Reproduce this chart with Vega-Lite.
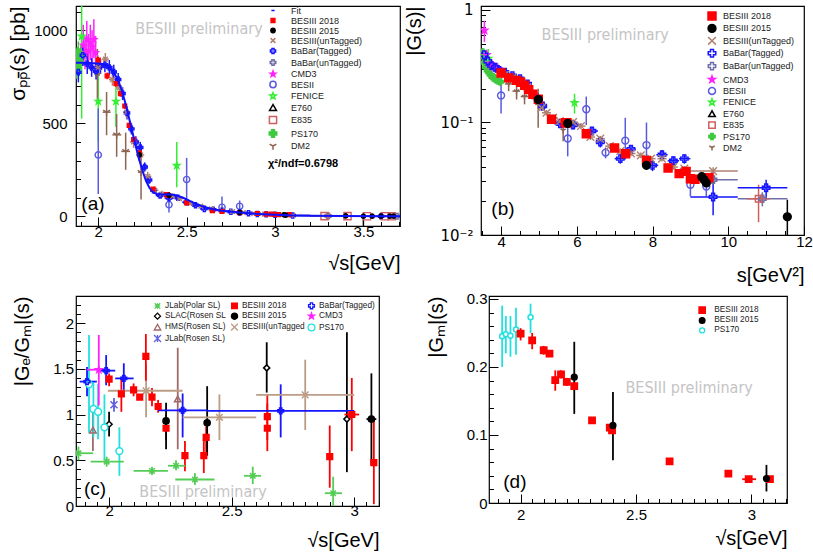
{
"$schema": "https://vega.github.io/schema/vega-lite/v6.json",
"background": "white",
"padding": {"left": 7, "top": 2, "right": 5, "bottom": 5},
"spacing": 5,
"config": {
  "view": {"stroke": "#000000", "strokeWidth": 1.2},
  "axis": {"grid": false, "domain": false, "tickColor": "#000000", "tickWidth": 1, "labelFont": "Liberation Sans", "titleFont": "Liberation Sans", "labelColor": "#000000", "titleColor": "#000000", "titleFontWeight": "normal", "labelFontSize": 15, "titleFontSize": 20, "labelOverlap": false, "labelFlush": false, "labelBound": false, "format": "~g"},
  "text": {"font": "Liberation Sans"}
},
"resolve": {"scale": {"stroke": "independent", "fill": "independent", "shape": "independent", "size": "independent", "x": "independent", "y": "independent"}, "legend": {"stroke": "independent", "fill": "independent", "shape": "independent"}},
"datasets": {
"afit": [
{"set":"Fit","x":1.874,"y":825},{"set":"Fit","x":1.9,"y":826},{"set":"Fit","x":1.95,"y":824},{"set":"Fit","x":2.0,"y":822},{"set":"Fit","x":2.03,"y":818},{"set":"Fit","x":2.05,"y":810},{"set":"Fit","x":2.07,"y":795},{"set":"Fit","x":2.09,"y":770},{"set":"Fit","x":2.11,"y":735},{"set":"Fit","x":2.13,"y":685},{"set":"Fit","x":2.15,"y":620},{"set":"Fit","x":2.17,"y":545},{"set":"Fit","x":2.19,"y":465},{"set":"Fit","x":2.21,"y":385},{"set":"Fit","x":2.23,"y":310},{"set":"Fit","x":2.25,"y":245},{"set":"Fit","x":2.27,"y":190},{"set":"Fit","x":2.29,"y":152},{"set":"Fit","x":2.31,"y":130},{"set":"Fit","x":2.33,"y":120},{"set":"Fit","x":2.36,"y":117},{"set":"Fit","x":2.4,"y":118},{"set":"Fit","x":2.44,"y":113},{"set":"Fit","x":2.48,"y":100},{"set":"Fit","x":2.52,"y":82},{"set":"Fit","x":2.56,"y":64},{"set":"Fit","x":2.6,"y":50},{"set":"Fit","x":2.65,"y":38},{"set":"Fit","x":2.7,"y":30},{"set":"Fit","x":2.8,"y":20},{"set":"Fit","x":2.9,"y":13},{"set":"Fit","x":3.0,"y":8},{"set":"Fit","x":3.1,"y":5},{"set":"Fit","x":3.2,"y":3},{"set":"Fit","x":3.4,"y":1.5},{"set":"Fit","x":3.6,"y":0.8},{"set":"Fit","x":3.707,"y":0.5}
],
"a": [
{"set":"CMD3","x":1.915,"y":920,"lo":810,"hi":1030},{"set":"CMD3","x":1.925,"y":880,"lo":790,"hi":970},{"set":"CMD3","x":1.935,"y":950,"lo":850,"hi":1050},{"set":"CMD3","x":1.945,"y":890,"lo":800,"hi":980},{"set":"CMD3","x":1.955,"y":935,"lo":840,"hi":1030},{"set":"CMD3","x":1.965,"y":910,"lo":820,"hi":1000},{"set":"CMD3","x":1.975,"y":950,"lo":850,"hi":1060},{"set":"CMD3","x":1.985,"y":880,"lo":790,"hi":970},
{"set":"PS170","x":1.878,"y":800,"lo":740,"hi":860},{"set":"PS170","x":1.882,"y":850,"lo":790,"hi":910},{"set":"PS170","x":1.887,"y":880,"lo":820,"hi":940},{"set":"PS170","x":1.893,"y":830,"lo":780,"hi":880},{"set":"PS170","x":1.9,"y":860,"lo":800,"hi":920},
{"set":"FENICE","x":1.906,"y":968,"lo":525,"hi":1200},{"set":"FENICE","x":2.0,"y":618,"lo":400,"hi":760},{"set":"FENICE","x":2.1,"y":618,"lo":480,"hi":722},{"set":"FENICE","x":2.444,"y":273,"lo":156,"hi":399},
{"set":"BESII","x":2.0,"y":330,"lo":120,"hi":580},{"set":"BESII","x":2.4,"y":62,"lo":20,"hi":105},{"set":"BESII","x":2.5,"y":198,"lo":58,"hi":314},{"set":"BESII","x":2.7,"y":49,"lo":20,"hi":106},{"set":"BESII","x":2.8,"y":54,"lo":28,"hi":85},
{"set":"DM2","x":1.995,"y":760,"lo":620,"hi":900,"xl":1.98,"xh":2.01},{"set":"DM2","x":2.047,"y":560,"lo":436,"hi":668,"xl":2.025,"xh":2.07},{"set":"DM2","x":2.104,"y":438,"lo":320,"hi":550,"xl":2.08,"xh":2.13},{"set":"DM2","x":2.155,"y":349,"lo":250,"hi":450,"xl":2.13,"xh":2.18},{"set":"DM2","x":2.242,"y":237,"lo":90,"hi":380,"xl":2.225,"xh":2.26},
{"set":"BaBar(Tagged)","x":1.8875,"y":775,"lo":720,"hi":830,"xl":1.875,"xh":1.9},{"set":"BaBar(Tagged)","x":1.9125,"y":866,"lo":810,"hi":922,"xl":1.9,"xh":1.925},{"set":"BaBar(Tagged)","x":1.9375,"y":820,"lo":765,"hi":875,"xl":1.925,"xh":1.95},{"set":"BaBar(Tagged)","x":1.9625,"y":800,"lo":750,"hi":850,"xl":1.95,"xh":1.975},{"set":"BaBar(Tagged)","x":1.9875,"y":780,"lo":735,"hi":825,"xl":1.975,"xh":2.0},{"set":"BaBar(Tagged)","x":2.0125,"y":805,"lo":765,"hi":845,"xl":2.0,"xh":2.025},{"set":"BaBar(Tagged)","x":2.0375,"y":815,"lo":775,"hi":855,"xl":2.025,"xh":2.05},{"set":"BaBar(Tagged)","x":2.0625,"y":800,"lo":760,"hi":840,"xl":2.05,"xh":2.075},{"set":"BaBar(Tagged)","x":2.0875,"y":776,"lo":735,"hi":815,"xl":2.075,"xh":2.1},{"set":"BaBar(Tagged)","x":2.1125,"y":735,"lo":700,"hi":770,"xl":2.1,"xh":2.125},{"set":"BaBar(Tagged)","x":2.1375,"y":660,"lo":625,"hi":695,"xl":2.125,"xh":2.15},{"set":"BaBar(Tagged)","x":2.1625,"y":555,"lo":520,"hi":590,"xl":2.15,"xh":2.175},{"set":"BaBar(Tagged)","x":2.1875,"y":470,"lo":440,"hi":500,"xl":2.175,"xh":2.2},{"set":"BaBar(Tagged)","x":2.2125,"y":400,"lo":370,"hi":430,"xl":2.2,"xh":2.225},{"set":"BaBar(Tagged)","x":2.2375,"y":370,"lo":340,"hi":400,"xl":2.225,"xh":2.25},{"set":"BaBar(Tagged)","x":2.2625,"y":265,"lo":240,"hi":290,"xl":2.25,"xh":2.275},{"set":"BaBar(Tagged)","x":2.2875,"y":195,"lo":175,"hi":215,"xl":2.275,"xh":2.3},{"set":"BaBar(Tagged)","x":2.3125,"y":140,"lo":125,"hi":155,"xl":2.3,"xh":2.325},{"set":"BaBar(Tagged)","x":2.35,"y":112,"lo":98,"hi":126,"xl":2.325,"xh":2.375},{"set":"BaBar(Tagged)","x":2.4,"y":98,"lo":85,"hi":111,"xl":2.375,"xh":2.425},{"set":"BaBar(Tagged)","x":2.45,"y":100,"lo":88,"hi":112,"xl":2.425,"xh":2.475},{"set":"BaBar(Tagged)","x":2.5,"y":76,"lo":66,"hi":86,"xl":2.475,"xh":2.525},{"set":"BaBar(Tagged)","x":2.55,"y":60,"lo":52,"hi":68,"xl":2.525,"xh":2.575},{"set":"BaBar(Tagged)","x":2.6,"y":40,"lo":34,"hi":46,"xl":2.575,"xh":2.625},{"set":"BaBar(Tagged)","x":2.65,"y":35,"lo":29,"hi":41,"xl":2.625,"xh":2.675},{"set":"BaBar(Tagged)","x":2.7,"y":30,"lo":25,"hi":35,"xl":2.675,"xh":2.725},{"set":"BaBar(Tagged)","x":2.75,"y":25,"lo":20,"hi":30,"xl":2.725,"xh":2.775},{"set":"BaBar(Tagged)","x":2.8,"y":21,"lo":17,"hi":25,"xl":2.775,"xh":2.825},{"set":"BaBar(Tagged)","x":2.85,"y":17,"lo":13,"hi":21,"xl":2.825,"xh":2.875},{"set":"BaBar(Tagged)","x":2.9,"y":13,"lo":10,"hi":16,"xl":2.875,"xh":2.925},{"set":"BaBar(Tagged)","x":2.95,"y":11,"lo":8,"hi":14,"xl":2.925,"xh":2.975},{"set":"BaBar(Tagged)","x":3.0,"y":8,"lo":5,"hi":11,"xl":2.975,"xh":3.025},{"set":"BaBar(Tagged)","x":3.1,"y":4,"lo":2,"hi":6,"xl":3.0,"xh":3.2},{"set":"BaBar(Tagged)","x":3.3,"y":1.5,"lo":0,"hi":3,"xl":3.2,"xh":3.4},{"set":"BaBar(Tagged)","x":3.6,"y":0.5,"lo":-1,"hi":2,"xl":3.5,"xh":3.707},
{"set":"BaBar(unTagged)","x":3.3,"y":2.5,"lo":0,"hi":5,"xl":3.2,"xh":3.4},{"set":"BaBar(unTagged)","x":3.69,"y":0.5,"lo":-1,"hi":2,"xl":3.6,"xh":3.707},
{"set":"E835","x":3.28,"y":1,"xl":3.26,"xh":3.3},{"set":"E835","x":3.41,"y":1,"xl":3.39,"xh":3.43},{"set":"E835","x":3.52,"y":0.5,"xl":3.5,"xh":3.54},{"set":"E835","x":3.62,"y":0.5,"xl":3.6,"xh":3.64},{"set":"E835","x":3.66,"y":0.3,"xl":3.64,"xh":3.68},
{"set":"BESIII(unTagged)","x":2.0,"y":800,"lo":765,"hi":835,"xl":1.98,"xh":2.02},{"set":"BESIII(unTagged)","x":2.04,"y":845,"lo":812,"hi":878,"xl":2.02,"xh":2.06},{"set":"BESIII(unTagged)","x":2.08,"y":735,"lo":702,"hi":768,"xl":2.06,"xh":2.1},{"set":"BESIII(unTagged)","x":2.12,"y":690,"lo":655,"hi":725,"xl":2.1,"xh":2.14},{"set":"BESIII(unTagged)","x":2.16,"y":560,"lo":525,"hi":595,"xl":2.14,"xh":2.18},{"set":"BESIII(unTagged)","x":2.2,"y":400,"lo":368,"hi":432,"xl":2.18,"xh":2.22},{"set":"BESIII(unTagged)","x":2.24,"y":330,"lo":300,"hi":360,"xl":2.22,"xh":2.26},{"set":"BESIII(unTagged)","x":2.28,"y":215,"lo":190,"hi":240,"xl":2.26,"xh":2.3},{"set":"BESIII(unTagged)","x":2.32,"y":140,"lo":120,"hi":160,"xl":2.3,"xh":2.34},{"set":"BESIII(unTagged)","x":2.36,"y":120,"lo":103,"hi":137,"xl":2.34,"xh":2.38},{"set":"BESIII(unTagged)","x":2.42,"y":108,"lo":92,"hi":124,"xl":2.4,"xh":2.44},{"set":"BESIII(unTagged)","x":2.46,"y":95,"lo":81,"hi":109,"xl":2.44,"xh":2.48},{"set":"BESIII(unTagged)","x":2.52,"y":70,"lo":59,"hi":81,"xl":2.5,"xh":2.54},{"set":"BESIII(unTagged)","x":2.58,"y":55,"lo":46,"hi":64,"xl":2.56,"xh":2.6},{"set":"BESIII(unTagged)","x":2.64,"y":40,"lo":33,"hi":47,"xl":2.62,"xh":2.66},{"set":"BESIII(unTagged)","x":2.7,"y":30,"lo":24,"hi":36,"xl":2.68,"xh":2.72},{"set":"BESIII(unTagged)","x":2.76,"y":25,"lo":20,"hi":30,"xl":2.74,"xh":2.78},{"set":"BESIII(unTagged)","x":2.82,"y":20,"lo":16,"hi":24,"xl":2.8,"xh":2.84},{"set":"BESIII(unTagged)","x":2.88,"y":15,"lo":11,"hi":19,"xl":2.86,"xh":2.9},{"set":"BESIII(unTagged)","x":2.94,"y":12,"lo":9,"hi":15,"xl":2.92,"xh":2.96},{"set":"BESIII(unTagged)","x":3.0,"y":10,"lo":7,"hi":13,"xl":2.98,"xh":3.02},{"set":"BESIII(unTagged)","x":3.1,"y":5,"lo":2,"hi":8,"xl":3.0,"xh":3.2},{"set":"BESIII(unTagged)","x":3.3,"y":2,"lo":0,"hi":4,"xl":3.2,"xh":3.4},
{"set":"BESIII 2018","x":2.0,"y":840,"lo":822,"hi":858},{"set":"BESIII 2018","x":2.05,"y":755,"lo":737,"hi":773},{"set":"BESIII 2018","x":2.1,"y":713,"lo":696,"hi":730},{"set":"BESIII 2018","x":2.125,"y":660,"lo":644,"hi":676},{"set":"BESIII 2018","x":2.15,"y":593,"lo":577,"hi":609},{"set":"BESIII 2018","x":2.175,"y":489,"lo":474,"hi":504},{"set":"BESIII 2018","x":2.2,"y":413,"lo":399,"hi":427},{"set":"BESIII 2018","x":2.2324,"y":341,"lo":328,"hi":354},{"set":"BESIII 2018","x":2.3094,"y":147,"lo":139,"hi":155},{"set":"BESIII 2018","x":2.3864,"y":117,"lo":110,"hi":124},{"set":"BESIII 2018","x":2.396,"y":112,"lo":105,"hi":119},{"set":"BESIII 2018","x":2.5,"y":72,"lo":66,"hi":78},{"set":"BESIII 2018","x":2.6454,"y":30,"lo":26,"hi":34},{"set":"BESIII 2018","x":2.7,"y":26,"lo":22,"hi":30},{"set":"BESIII 2018","x":2.8,"y":20,"lo":16,"hi":24},{"set":"BESIII 2018","x":2.9,"y":15,"lo":12,"hi":18},{"set":"BESIII 2018","x":2.95,"y":12,"lo":9,"hi":15},{"set":"BESIII 2018","x":2.981,"y":12,"lo":9,"hi":15},{"set":"BESIII 2018","x":3.0,"y":10,"lo":7,"hi":13},{"set":"BESIII 2018","x":3.02,"y":9,"lo":6,"hi":12},{"set":"BESIII 2018","x":3.08,"y":9,"lo":6,"hi":12},
{"set":"BESIII 2015","x":2.2324,"y":330,"lo":300,"hi":360},{"set":"BESIII 2015","x":2.4,"y":113,"lo":95,"hi":131},{"set":"BESIII 2015","x":2.8,"y":20,"lo":12,"hi":28},{"set":"BESIII 2015","x":3.05,"y":8,"lo":3,"hi":13},{"set":"BESIII 2015","x":3.06,"y":6},{"set":"BESIII 2015","x":3.4,"y":2,"lo":-6,"hi":10},{"set":"BESIII 2015","x":3.5,"y":1,"lo":-50,"hi":8},{"set":"BESIII 2015","x":3.55,"y":1},{"set":"BESIII 2015","x":3.6,"y":1},{"set":"BESIII 2015","x":3.65,"y":1},{"set":"BESIII 2015","x":3.671,"y":1}
],
"b": [
{"set":"PS170","x":3.52,"y":0.42,"lo":0.38,"hi":0.46},{"set":"PS170","x":3.54,"y":0.38,"lo":0.34,"hi":0.42},{"set":"PS170","x":3.57,"y":0.34,"lo":0.31,"hi":0.37},{"set":"PS170","x":3.6,"y":0.31,"lo":0.28,"hi":0.34},{"set":"PS170","x":3.64,"y":0.29,"lo":0.26,"hi":0.32},{"set":"PS170","x":3.68,"y":0.28,"lo":0.255,"hi":0.305},{"set":"PS170","x":3.72,"y":0.265,"lo":0.24,"hi":0.29},{"set":"PS170","x":3.77,"y":0.255,"lo":0.23,"hi":0.28},{"set":"PS170","x":3.82,"y":0.25,"lo":0.225,"hi":0.275},{"set":"PS170","x":3.87,"y":0.24,"lo":0.22,"hi":0.26},{"set":"PS170","x":3.92,"y":0.235,"lo":0.215,"hi":0.255},{"set":"PS170","x":3.98,"y":0.23,"lo":0.21,"hi":0.25},
{"set":"CMD3","x":3.56,"y":0.66,"lo":0.52,"hi":0.8},{"set":"CMD3","x":3.62,"y":0.4,"lo":0.36,"hi":0.44},{"set":"CMD3","x":3.67,"y":0.34,"lo":0.31,"hi":0.37},{"set":"CMD3","x":3.72,"y":0.33,"lo":0.31,"hi":0.35},{"set":"CMD3","x":3.77,"y":0.32,"lo":0.3,"hi":0.34},{"set":"CMD3","x":3.82,"y":0.31,"lo":0.29,"hi":0.33},{"set":"CMD3","x":3.87,"y":0.305,"lo":0.29,"hi":0.32},{"set":"CMD3","x":3.92,"y":0.3,"lo":0.285,"hi":0.315},
{"set":"FENICE","x":3.66,"y":0.37,"lo":0.3,"hi":0.45},{"set":"FENICE","x":5.94,"y":0.15,"lo":0.12,"hi":0.18},
{"set":"BESII","x":4.0,"y":0.174,"lo":0.12,"hi":0.24},{"set":"BESII","x":5.76,"y":0.072,"lo":0.05,"hi":0.097},{"set":"BESII","x":6.25,"y":0.131,"lo":0.095,"hi":0.17},{"set":"BESII","x":6.76,"y":0.054,"lo":0.048,"hi":0.06},{"set":"BESII","x":7.28,"y":0.069,"lo":0.05,"hi":0.11},{"set":"BESII","x":7.84,"y":0.063,"lo":0.045,"hi":0.1},{"set":"BESII","x":9.0,"y":0.028,"lo":0.022,"hi":0.034},{"set":"BESII","x":9.42,"y":0.027,"lo":0.022,"hi":0.032},
{"set":"DM2","x":4.2,"y":0.22,"lo":0.19,"hi":0.25,"xl":4.1,"xh":4.3},{"set":"DM2","x":4.41,"y":0.19,"lo":0.16,"hi":0.22,"xl":4.3,"xh":4.5},{"set":"DM2","x":4.62,"y":0.17,"lo":0.145,"hi":0.2,"xl":4.52,"xh":4.72},{"set":"DM2","x":4.98,"y":0.145,"lo":0.09,"hi":0.2,"xl":4.9,"xh":5.05},{"set":"DM2","x":5.64,"y":0.085,"lo":0.068,"hi":0.097},
{"set":"BaBar(Tagged)","x":3.55,"y":0.4,"lo":0.36,"hi":0.44,"xl":3.5,"xh":3.6},{"set":"BaBar(Tagged)","x":3.65,"y":0.35,"lo":0.32,"hi":0.38,"xl":3.6,"xh":3.7},{"set":"BaBar(Tagged)","x":3.75,"y":0.32,"lo":0.3,"hi":0.34,"xl":3.7,"xh":3.8},{"set":"BaBar(Tagged)","x":3.85,"y":0.31,"lo":0.29,"hi":0.33,"xl":3.8,"xh":3.9},{"set":"BaBar(Tagged)","x":3.95,"y":0.29,"lo":0.27,"hi":0.31,"xl":3.9,"xh":4.0},{"set":"BaBar(Tagged)","x":4.1,"y":0.28,"lo":0.26,"hi":0.3,"xl":4.0,"xh":4.2},{"set":"BaBar(Tagged)","x":4.3,"y":0.26,"lo":0.245,"hi":0.275,"xl":4.2,"xh":4.4},{"set":"BaBar(Tagged)","x":4.5,"y":0.245,"lo":0.23,"hi":0.26,"xl":4.4,"xh":4.6},{"set":"BaBar(Tagged)","x":4.7,"y":0.22,"lo":0.205,"hi":0.235,"xl":4.6,"xh":4.8},{"set":"BaBar(Tagged)","x":4.93,"y":0.168,"lo":0.155,"hi":0.18,"xl":4.83,"xh":5.03},{"set":"BaBar(Tagged)","x":5.1,"y":0.14,"lo":0.13,"hi":0.15,"xl":5.03,"xh":5.2},{"set":"BaBar(Tagged)","x":5.56,"y":0.0975,"lo":0.09,"hi":0.105,"xl":5.4,"xh":5.72},{"set":"BaBar(Tagged)","x":5.9,"y":0.095,"lo":0.087,"hi":0.103,"xl":5.72,"xh":6.1},{"set":"BaBar(Tagged)","x":6.4,"y":0.084,"lo":0.077,"hi":0.091,"xl":6.25,"xh":6.56},{"set":"BaBar(Tagged)","x":6.62,"y":0.067,"lo":0.06,"hi":0.075,"xl":6.5,"xh":6.75},{"set":"BaBar(Tagged)","x":7.15,"y":0.0477,"lo":0.043,"hi":0.053,"xl":7.0,"xh":7.3},{"set":"BaBar(Tagged)","x":7.43,"y":0.058,"lo":0.053,"hi":0.063,"xl":7.3,"xh":7.56},{"set":"BaBar(Tagged)","x":8.0,"y":0.0416,"lo":0.037,"hi":0.046,"xl":7.85,"xh":8.15},{"set":"BaBar(Tagged)","x":8.25,"y":0.0517,"lo":0.047,"hi":0.057,"xl":8.1,"xh":8.4},{"set":"BaBar(Tagged)","x":8.55,"y":0.0457,"lo":0.041,"hi":0.05,"xl":8.4,"xh":8.7},{"set":"BaBar(Tagged)","x":8.84,"y":0.0477,"lo":0.043,"hi":0.052,"xl":8.7,"xh":9.0},{"set":"BaBar(Tagged)","x":9.6,"y":0.0218,"lo":0.015,"hi":0.03,"xl":9.0,"xh":10.25},{"set":"BaBar(Tagged)","x":11.0,"y":0.0263,"lo":0.021,"hi":0.031,"xl":10.25,"xh":11.56},
{"set":"BaBar(unTagged)","x":9.6,"y":0.031,"lo":0.028,"hi":0.034,"xl":9.0,"xh":10.25},{"set":"BaBar(unTagged)","x":10.9,"y":0.021,"lo":0.018,"hi":0.024,"xl":10.25,"xh":11.56},
{"set":"E835","x":10.8,"y":0.021,"lo":0.013,"hi":0.028,"xl":10.5,"xh":11.1},
{"set":"BESIII(unTagged)","x":4.1,"y":0.265,"lo":0.25,"hi":0.28,"xl":3.98,"xh":4.22},{"set":"BESIII(unTagged)","x":4.3,"y":0.25,"lo":0.235,"hi":0.265,"xl":4.18,"xh":4.42},{"set":"BESIII(unTagged)","x":4.5,"y":0.232,"lo":0.218,"hi":0.246,"xl":4.38,"xh":4.62},{"set":"BESIII(unTagged)","x":4.7,"y":0.205,"lo":0.193,"hi":0.217,"xl":4.58,"xh":4.82},{"set":"BESIII(unTagged)","x":4.9,"y":0.175,"lo":0.165,"hi":0.185,"xl":4.78,"xh":5.02},{"set":"BESIII(unTagged)","x":5.07,"y":0.135,"lo":0.127,"hi":0.143,"xl":4.95,"xh":5.19},{"set":"BESIII(unTagged)","x":5.2,"y":0.122,"lo":0.115,"hi":0.129,"xl":5.08,"xh":5.32},{"set":"BESIII(unTagged)","x":5.37,"y":0.11,"lo":0.103,"hi":0.117,"xl":5.25,"xh":5.49},{"set":"BESIII(unTagged)","x":5.55,"y":0.103,"lo":0.097,"hi":0.109,"xl":5.43,"xh":5.67},{"set":"BESIII(unTagged)","x":5.9,"y":0.101,"lo":0.095,"hi":0.107,"xl":5.78,"xh":6.02},{"set":"BESIII(unTagged)","x":6.11,"y":0.093,"lo":0.087,"hi":0.099,"xl":5.99,"xh":6.23},{"set":"BESIII(unTagged)","x":6.36,"y":0.0743,"lo":0.07,"hi":0.079,"xl":6.24,"xh":6.48},{"set":"BESIII(unTagged)","x":6.62,"y":0.0718,"lo":0.067,"hi":0.076,"xl":6.5,"xh":6.74},{"set":"BESIII(unTagged)","x":6.87,"y":0.0617,"lo":0.058,"hi":0.065,"xl":6.75,"xh":6.99},{"set":"BESIII(unTagged)","x":7.15,"y":0.0557,"lo":0.052,"hi":0.059,"xl":7.03,"xh":7.27},{"set":"BESIII(unTagged)","x":7.43,"y":0.053,"lo":0.05,"hi":0.056,"xl":7.31,"xh":7.55},{"set":"BESIII(unTagged)","x":7.69,"y":0.051,"lo":0.048,"hi":0.054,"xl":7.57,"xh":7.81},{"set":"BESIII(unTagged)","x":7.96,"y":0.0477,"lo":0.045,"hi":0.05,"xl":7.84,"xh":8.08},{"set":"BESIII(unTagged)","x":8.25,"y":0.0477,"lo":0.045,"hi":0.05,"xl":8.13,"xh":8.37},{"set":"BESIII(unTagged)","x":8.55,"y":0.0402,"lo":0.038,"hi":0.043,"xl":8.43,"xh":8.67},{"set":"BESIII(unTagged)","x":8.84,"y":0.039,"lo":0.037,"hi":0.041,"xl":8.72,"xh":8.96},{"set":"BESIII(unTagged)","x":9.6,"y":0.037,"lo":0.034,"hi":0.04,"xl":9.0,"xh":10.25},
{"set":"BESIII 2018","x":4.0,"y":0.275},{"set":"BESIII 2018","x":4.2025,"y":0.249},{"set":"BESIII 2018","x":4.41,"y":0.237},{"set":"BESIII 2018","x":4.5156,"y":0.228},{"set":"BESIII 2018","x":4.6225,"y":0.214},{"set":"BESIII 2018","x":4.7306,"y":0.196},{"set":"BESIII 2018","x":4.84,"y":0.178},{"set":"BESIII 2018","x":4.9836,"y":0.161},{"set":"BESIII 2018","x":5.3333,"y":0.107},{"set":"BESIII 2018","x":5.695,"y":0.0996},{"set":"BESIII 2018","x":5.7408,"y":0.0996},{"set":"BESIII 2018","x":6.25,"y":0.0795},{"set":"BESIII 2018","x":6.998,"y":0.0593},{"set":"BESIII 2018","x":7.29,"y":0.0528},{"set":"BESIII 2018","x":7.84,"y":0.046},{"set":"BESIII 2018","x":8.41,"y":0.0394},{"set":"BESIII 2018","x":8.7025,"y":0.0351},{"set":"BESIII 2018","x":8.8864,"y":0.0368},{"set":"BESIII 2018","x":9.0,"y":0.0316},{"set":"BESIII 2018","x":9.1204,"y":0.0313},{"set":"BESIII 2018","x":9.4864,"y":0.0323},
{"set":"BESIII 2015","x":4.9836,"y":0.16},{"set":"BESIII 2015","x":5.76,"y":0.098},{"set":"BESIII 2015","x":7.84,"y":0.0416,"lo":0.038,"hi":0.046},{"set":"BESIII 2015","x":9.3,"y":0.033,"lo":0.031,"hi":0.035},{"set":"BESIII 2015","x":9.36,"y":0.031},{"set":"BESIII 2015","x":9.42,"y":0.029},{"set":"BESIII 2015","x":11.56,"y":0.0145,"lo":0.005,"hi":0.0206}
],
"c": [
{"set":"JLab(Polar SL)","x":1.875,"y":0.577,"lo":0.5,"hi":0.65,"xl":1.865,"xh":1.935},{"set":"JLab(Polar SL)","x":1.99,"y":0.485,"lo":0.43,"hi":0.54,"xl":1.925,"xh":2.06},{"set":"JLab(Polar SL)","x":2.175,"y":0.383,"lo":0.34,"hi":0.43,"xl":2.1,"xh":2.24},{"set":"JLab(Polar SL)","x":2.273,"y":0.44,"lo":0.39,"hi":0.5,"xl":2.24,"xh":2.31},{"set":"JLab(Polar SL)","x":2.35,"y":0.29,"lo":0.23,"hi":0.36,"xl":2.27,"xh":2.43},{"set":"JLab(Polar SL)","x":2.586,"y":0.33,"lo":0.24,"hi":0.43,"xl":2.55,"xh":2.62},{"set":"JLab(Polar SL)","x":2.914,"y":0.14,"lo":0.0,"hi":0.32,"xl":2.88,"xh":2.95},
{"set":"SLAC(Rosen SL","x":2.0,"y":0.894,"lo":0.76,"hi":1.03},{"set":"SLAC(Rosen SL","x":2.643,"y":1.51,"lo":1.24,"hi":1.79},{"set":"SLAC(Rosen SL","x":2.97,"y":0.95,"lo":0.37,"hi":1.9},
{"set":"HMS(Rosen SL)","x":1.934,"y":0.83,"lo":0.6,"hi":1.05},{"set":"HMS(Rosen SL)","x":2.28,"y":1.17,"lo":0.62,"hi":1.73},
{"set":"JLab(Rosen SL)","x":2.02,"y":1.106,"lo":1.03,"hi":1.18},
{"set":"PS170","x":1.918,"y":1.33,"lo":0.8,"hi":1.87},{"set":"PS170","x":1.936,"y":1.06,"lo":0.75,"hi":1.35},{"set":"PS170","x":1.955,"y":1.03,"lo":0.73,"hi":1.33},{"set":"PS170","x":1.981,"y":0.86,"lo":0.5,"hi":1.22},{"set":"PS170","x":2.042,"y":0.6,"lo":0.33,"hi":0.86},
{"set":"CMD3","x":1.958,"y":1.49,"lo":1.1,"hi":1.87,"xl":1.91,"xh":1.99},
{"set":"BaBar(Tagged)","x":1.91,"y":1.36,"lo":1.2,"hi":1.52,"xl":1.88,"xh":1.95},{"set":"BaBar(Tagged)","x":1.988,"y":1.48,"lo":1.32,"hi":1.65,"xl":1.95,"xh":2.025},{"set":"BaBar(Tagged)","x":2.06,"y":1.395,"lo":1.24,"hi":1.56,"xl":2.025,"xh":2.1},{"set":"BaBar(Tagged)","x":2.3,"y":1.045,"lo":0.75,"hi":1.23,"xl":2.2,"xh":2.4},{"set":"BaBar(Tagged)","x":2.7,"y":1.04,"lo":0.75,"hi":1.33,"xl":2.4,"xh":3.0},
{"set":"BESIII(unTagged","x":2.151,"y":1.26,"lo":0.97,"hi":1.55,"xl":1.995,"xh":2.3},{"set":"BESIII(unTagged","x":2.45,"y":0.97,"lo":0.72,"hi":1.22,"xl":2.3,"xh":2.6},{"set":"BESIII(unTagged","x":2.8,"y":1.215,"lo":0.83,"hi":1.6,"xl":2.6,"xh":3.0},
{"set":"BESIII 2018","x":2.0,"y":1.387,"lo":1.31,"hi":1.45},{"set":"BESIII 2018","x":2.05,"y":1.226,"lo":1.03,"hi":1.4},{"set":"BESIII 2018","x":2.1,"y":1.27,"lo":1.2,"hi":1.34},{"set":"BESIII 2018","x":2.125,"y":1.19,"lo":1.16,"hi":1.22},{"set":"BESIII 2018","x":2.15,"y":1.635,"lo":1.37,"hi":1.88},{"set":"BESIII 2018","x":2.175,"y":1.19,"lo":1.09,"hi":1.29},{"set":"BESIII 2018","x":2.2,"y":1.088,"lo":1.02,"hi":1.16},{"set":"BESIII 2018","x":2.2324,"y":0.85,"lo":0.72,"hi":1.0},{"set":"BESIII 2018","x":2.3094,"y":0.55,"lo":0.38,"hi":0.71},{"set":"BESIII 2018","x":2.3864,"y":0.55,"lo":0.36,"hi":0.74},{"set":"BESIII 2018","x":2.396,"y":0.75,"lo":0.55,"hi":0.87},{"set":"BESIII 2018","x":2.6454,"y":0.978,"lo":0.72,"hi":1.22},{"set":"BESIII 2018","x":2.6454,"y":0.85,"lo":0.6,"hi":1.12},{"set":"BESIII 2018","x":2.9,"y":0.54,"lo":0.2,"hi":0.88},{"set":"BESIII 2018","x":2.99,"y":1.0,"lo":0.6,"hi":1.4,"xl":2.96,"xh":3.02},{"set":"BESIII 2018","x":3.08,"y":0.474,"lo":0.02,"hi":0.93},
{"set":"BESIII 2015","x":2.2324,"y":0.93,"lo":0.62,"hi":1.13},{"set":"BESIII 2015","x":2.4,"y":0.91,"lo":0.55,"hi":1.31},{"set":"BESIII 2015","x":3.07,"y":0.95,"lo":0.45,"hi":1.45,"xl":3.05,"xh":3.09}
],
"d": [
{"set":"PS170","x":1.92,"y":0.245,"lo":0.2,"hi":0.29},{"set":"PS170","x":1.936,"y":0.248,"lo":0.22,"hi":0.275},{"set":"PS170","x":1.956,"y":0.246,"lo":0.215,"hi":0.275},{"set":"PS170","x":1.98,"y":0.255,"lo":0.218,"hi":0.287},{"set":"PS170","x":2.043,"y":0.273,"lo":0.25,"hi":0.293},
{"set":"BESIII 2018","x":2.0,"y":0.249,"lo":0.239,"hi":0.257},{"set":"BESIII 2018","x":2.05,"y":0.239,"lo":0.226,"hi":0.25},{"set":"BESIII 2018","x":2.1,"y":0.2246,"lo":0.218,"hi":0.231},{"set":"BESIII 2018","x":2.125,"y":0.2197,"lo":0.216,"hi":0.223},{"set":"BESIII 2018","x":2.15,"y":0.1806,"lo":0.165,"hi":0.195},{"set":"BESIII 2018","x":2.175,"y":0.189,"lo":0.183,"hi":0.195},{"set":"BESIII 2018","x":2.2,"y":0.178,"lo":0.172,"hi":0.184},{"set":"BESIII 2018","x":2.2324,"y":0.1718,"lo":0.166,"hi":0.178},{"set":"BESIII 2018","x":2.3094,"y":0.1215,"lo":0.118,"hi":0.125},{"set":"BESIII 2018","x":2.3864,"y":0.1107,"lo":0.107,"hi":0.114},{"set":"BESIII 2018","x":2.396,"y":0.1068,"lo":0.103,"hi":0.11},{"set":"BESIII 2018","x":2.6454,"y":0.0613,"lo":0.059,"hi":0.064},{"set":"BESIII 2018","x":2.9,"y":0.0433,"lo":0.041,"hi":0.046},{"set":"BESIII 2018","x":2.988,"y":0.035,"lo":0.033,"hi":0.037,"xl":2.96,"xh":3.02},{"set":"BESIII 2018","x":3.08,"y":0.035,"lo":0.033,"hi":0.037},
{"set":"BESIII 2015","x":2.2324,"y":0.185,"lo":0.131,"hi":0.237},{"set":"BESIII 2015","x":2.4,"y":0.114,"lo":0.063,"hi":0.163},{"set":"BESIII 2015","x":3.065,"y":0.036,"lo":0.017,"hi":0.056,"xl":3.05,"xh":3.08}
]
},
"vconcat": [
{"hconcat": [
{"width": 324, "height": 220,
 "resolve": {"axis": {"x": "independent", "y": "independent"}},
 "layer": [
  {"data": {"name": "a"}, "transform": [{"filter": "isValid(datum.lo)"}], "mark": {"type": "rule", "strokeWidth": 1.5, "clip": true},
   "encoding": {
    "x": {"field": "x", "type": "quantitative", "scale": {"domain": [1.874, 3.707], "nice": false, "zero": false},
      "axis": {"orient": "bottom", "values": [2,2.5,3,3.5], "tickSize": -9, "labelPadding": 7, "title": "√s[GeV]", "titleAnchor": "end", "titleFontSize": 20, "titlePadding": 14}},
    "y": {"field": "lo", "type": "quantitative", "scale": {"domain": [-52, 1130.6], "nice": false, "zero": false},
      "axis": {"orient": "left", "values": [0,500,1000], "format": "d", "tickSize": -9, "labelPadding": 18, "title": "σₚₚ̄(s) [pb]", "titleAnchor": "end", "titleFontSize": 21, "titlePadding": 5}},
    "y2": {"field": "hi"},
    "stroke": {"field": "set", "type": "nominal", "scale": {"domain": ["Fit","BESIII 2018","BESIII 2015","BESIII(unTagged)","BaBar(Tagged)","BaBar(unTagged)","CMD3","BESII","FENICE","E760","E835","PS170","DM2"], "range": ["#1010ff","#ff0000","#000000","#b08070","#1515ff","#6e6ea8","#ff22ff","#5a5ae0","#33ee33","#000000","#d06060","#40c840","#8c6450"]},
      "legend": {"orient": "none", "legendX": 192, "legendY": 0, "title": null, "labelFontSize": 9, "labelFont": "Liberation Sans", "labelColor": "#222222", "symbolSize": 40, "rowPadding": -1.5, "labelOffset": 13, "padding": 0, "symbolStrokeWidth": 1.5, "encode": {"symbols": {"update": {"size": {"signal": "datum.value === 'Fit' ? 480 : 40"}}}}}}
   }},
  {"data": {"name": "a"}, "transform": [{"filter": "isValid(datum.xl)"}], "mark": {"type": "rule", "strokeWidth": 1.5, "clip": true},
   "encoding": {
    "x": {"field": "xl", "type": "quantitative", "axis": {"orient": "bottom", "values": [1.9,2.1,2.2,2.3,2.4,2.6,2.7,2.8,2.9,3.1,3.2,3.3,3.4,3.6,3.7], "tickSize": -4.5, "labels": false, "title": null}},
    "x2": {"field": "xh"},
    "y": {"field": "y", "type": "quantitative", "axis": {"orient": "left", "values": [100,200,300,400,600,700,800,900,1100], "tickSize": -4.5, "labels": false, "title": null}},
    "stroke": {"field": "set", "type": "nominal", "scale": {"domain": ["Fit","BESIII 2018","BESIII 2015","BESIII(unTagged)","BaBar(Tagged)","BaBar(unTagged)","CMD3","BESII","FENICE","E760","E835","PS170","DM2"], "range": ["#1010ff","#ff0000","#000000","#b08070","#1515ff","#6e6ea8","#ff22ff","#5a5ae0","#33ee33","#000000","#d06060","#40c840","#8c6450"]},
      "legend": {"orient": "none", "legendX": 192, "legendY": 0, "title": null, "labelFontSize": 9, "labelFont": "Liberation Sans", "labelColor": "#222222", "symbolSize": 40, "rowPadding": -1.5, "labelOffset": 13, "padding": 0, "symbolStrokeWidth": 1.5, "encode": {"symbols": {"update": {"size": {"signal": "datum.value === 'Fit' ? 480 : 40"}}}}}}
   }},
  {"data": {"name": "a"}, "mark": {"type": "point", "filled": true, "opacity": 1, "strokeWidth": 1.4, "clip": true},
   "encoding": {
    "x": {"field": "x", "type": "quantitative", "axis": null},
    "y": {"field": "y", "type": "quantitative", "axis": null},
    "shape": {"field": "set", "type": "nominal", "scale": {"domain": ["Fit","BESIII 2018","BESIII 2015","BESIII(unTagged)","BaBar(Tagged)","BaBar(unTagged)","CMD3","BESII","FENICE","E760","E835","PS170","DM2"], "range": ["stroke","square","circle","M-1,-1L1,1M-1,1L1,-1","cross","cross","M0,-1L0.235,-0.324L0.951,-0.309L0.38,0.124L0.588,0.809L0,0.4L-0.588,0.809L-0.38,0.124L-0.951,-0.309L-0.235,-0.324Z","circle","M0,-1L0.235,-0.324L0.951,-0.309L0.38,0.124L0.588,0.809L0,0.4L-0.588,0.809L-0.38,0.124L-0.951,-0.309L-0.235,-0.324Z","triangle-up","square","cross","M0,0L0,1M0,0L-0.87,-0.5M0,0L0.87,-0.5"]},
      "legend": {"orient": "none", "legendX": 192, "legendY": 0, "title": null, "labelFontSize": 9, "labelFont": "Liberation Sans", "labelColor": "#222222", "symbolSize": 40, "rowPadding": -1.5, "labelOffset": 13, "padding": 0, "symbolStrokeWidth": 1.5, "encode": {"symbols": {"update": {"size": {"signal": "datum.value === 'Fit' ? 480 : 40"}}}}}},
    "fill": {"field": "set", "type": "nominal", "scale": {"domain": ["Fit","BESIII 2018","BESIII 2015","BESIII(unTagged)","BaBar(Tagged)","BaBar(unTagged)","CMD3","BESII","FENICE","E760","E835","PS170","DM2"], "range": ["transparent","#ff0000","#000000","#b08070","transparent","transparent","#ff22ff","transparent","transparent","transparent","transparent","#40c840","#8c6450"]},
      "legend": {"orient": "none", "legendX": 192, "legendY": 0, "title": null, "labelFontSize": 9, "labelFont": "Liberation Sans", "labelColor": "#222222", "symbolSize": 40, "rowPadding": -1.5, "labelOffset": 13, "padding": 0, "symbolStrokeWidth": 1.5, "encode": {"symbols": {"update": {"size": {"signal": "datum.value === 'Fit' ? 480 : 40"}}}}}},
    "stroke": {"field": "set", "type": "nominal", "scale": {"domain": ["Fit","BESIII 2018","BESIII 2015","BESIII(unTagged)","BaBar(Tagged)","BaBar(unTagged)","CMD3","BESII","FENICE","E760","E835","PS170","DM2"], "range": ["#1010ff","#ff0000","#000000","#b08070","#1515ff","#6e6ea8","#ff22ff","#5a5ae0","#33ee33","#000000","#d06060","#40c840","#8c6450"]},
      "legend": {"orient": "none", "legendX": 192, "legendY": 0, "title": null, "labelFontSize": 9, "labelFont": "Liberation Sans", "labelColor": "#222222", "symbolSize": 40, "rowPadding": -1.5, "labelOffset": 13, "padding": 0, "symbolStrokeWidth": 1.5, "encode": {"symbols": {"update": {"size": {"signal": "datum.value === 'Fit' ? 480 : 40"}}}}}},
    "size": {"field": "set", "type": "nominal", "scale": {"domain": ["Fit","BESIII 2018","BESIII 2015","BESIII(unTagged)","BaBar(Tagged)","BaBar(unTagged)","CMD3","BESII","FENICE","E760","E835","PS170","DM2"], "range": [10,60,36,30,50,50,30,45,50,40,40,30,40]}, "legend": null}
   }},
  {"data": {"name": "afit"}, "mark": {"type": "line", "strokeWidth": 2, "clip": true},
   "encoding": {
    "x": {"field": "x", "type": "quantitative", "axis": null},
    "y": {"field": "y", "type": "quantitative", "axis": null},
    "stroke": {"field": "set", "type": "nominal", "scale": {"domain": ["Fit","BESIII 2018","BESIII 2015","BESIII(unTagged)","BaBar(Tagged)","BaBar(unTagged)","CMD3","BESII","FENICE","E760","E835","PS170","DM2"], "range": ["#1010ff","#ff0000","#000000","#b08070","#1515ff","#6e6ea8","#ff22ff","#5a5ae0","#33ee33","#000000","#d06060","#40c840","#8c6450"]},
      "legend": {"orient": "none", "legendX": 192, "legendY": 0, "title": null, "labelFontSize": 9, "labelFont": "Liberation Sans", "labelColor": "#222222", "symbolSize": 40, "rowPadding": -1.5, "labelOffset": 13, "padding": 0, "symbolStrokeWidth": 1.5, "encode": {"symbols": {"update": {"size": {"signal": "datum.value === 'Fit' ? 480 : 40"}}}}}}
   }},
  {"data": {"values": [{}]}, "mark": {"type": "text", "fontSize": 16, "font": "DejaVu Sans Condensed", "color": "#c4c4c4"}, "encoding": {"x": {"datum": 2.57, "axis": null}, "y": {"datum": 1008, "axis": null}, "text": {"value": "BESIII preliminary"}}},
  {"data": {"values": [{}]}, "mark": {"type": "text", "fontSize": 19, "color": "#000000"}, "encoding": {"x": {"datum": 1.97, "axis": null}, "y": {"datum": 65, "axis": null}, "text": {"value": "(a)"}}},
  {"data": {"values": [{}]}, "mark": {"type": "text", "fontSize": 11, "fontWeight": "bold", "align": "left", "color": "#000000"}, "encoding": {"x": {"datum": 2.96, "axis": null}, "y": {"datum": 283, "axis": null}, "text": {"value": "χ²/ndf=0.6798"}}}
 ]},
{"width": 323, "height": 229,
 "resolve": {"axis": {"x": "independent", "y": "independent"}},
 "layer": [
  {"data": {"name": "b"}, "transform": [{"filter": "isValid(datum.lo)"}], "mark": {"type": "rule", "strokeWidth": 1.5, "clip": true},
   "encoding": {
    "x": {"field": "x", "type": "quantitative", "scale": {"domain": [3.47, 12], "nice": false, "zero": false},
      "axis": {"orient": "bottom", "values": [4,6,8,10,12], "tickSize": -9, "labelPadding": 8, "title": "s[GeV²]", "titleAnchor": "end", "titleFontSize": 20, "titlePadding": 16}},
    "y": {"field": "lo", "type": "quantitative", "scale": {"type": "log", "domain": [0.01, 1.085], "nice": false},
      "axis": {"orient": "left", "values": [0.01,0.1,1], "labelFont": "DejaVu Sans", "labelFontSize": 15, "labelExpr": "datum.value == 1 ? '1' : datum.value == 0.1 ? '10⁻¹' : '10⁻²'", "tickSize": -9, "labelPadding": 17, "title": "|G(s)|", "titleAnchor": "end", "titleFontSize": 20, "titlePadding": 15}},
    "y2": {"field": "hi"},
    "stroke": {"field": "set", "type": "nominal", "scale": {"domain": ["BESIII 2018","BESIII 2015","BESIII(unTagged)","BaBar(Tagged)","BaBar(unTagged)","CMD3","BESII","FENICE","E760","E835","PS170","DM2"], "range": ["#ff0000","#000000","#b08070","#1515ff","#6e6ea8","#ff22ff","#5a5ae0","#33ee33","#000000","#d06060","#40c840","#8c6450"]},
      "legend": {"orient": "none", "legendX": 226, "legendY": 5, "title": null, "labelFontSize": 9, "labelFont": "Liberation Sans", "labelColor": "#222222", "symbolSize": 45, "rowPadding": -1.6, "labelOffset": 6, "padding": 0, "symbolStrokeWidth": 1.5}}
   }},
  {"data": {"name": "b"}, "transform": [{"filter": "isValid(datum.xl)"}], "mark": {"type": "rule", "strokeWidth": 1.5, "clip": true},
   "encoding": {
    "x": {"field": "xl", "type": "quantitative", "axis": {"orient": "bottom", "values": [3.5,4.5,5,5.5,6.5,7,7.5,8.5,9,9.5,10.5,11,11.5], "tickSize": -4.5, "labels": false, "title": null}},
    "x2": {"field": "xh"},
    "y": {"field": "y", "type": "quantitative", "axis": {"orient": "left", "values": [0.02,0.03,0.04,0.05,0.06,0.07,0.08,0.09,0.2,0.3,0.4,0.5,0.6,0.7,0.8,0.9], "tickSize": -4.5, "labels": false, "title": null}},
    "stroke": {"field": "set", "type": "nominal", "scale": {"domain": ["BESIII 2018","BESIII 2015","BESIII(unTagged)","BaBar(Tagged)","BaBar(unTagged)","CMD3","BESII","FENICE","E760","E835","PS170","DM2"], "range": ["#ff0000","#000000","#b08070","#1515ff","#6e6ea8","#ff22ff","#5a5ae0","#33ee33","#000000","#d06060","#40c840","#8c6450"]},
      "legend": {"orient": "none", "legendX": 226, "legendY": 5, "title": null, "labelFontSize": 9, "labelFont": "Liberation Sans", "labelColor": "#222222", "symbolSize": 45, "rowPadding": -1.6, "labelOffset": 6, "padding": 0, "symbolStrokeWidth": 1.5}}
   }},
  {"data": {"name": "b"}, "mark": {"type": "point", "filled": true, "opacity": 1, "strokeWidth": 1.4, "clip": true},
   "encoding": {
    "x": {"field": "x", "type": "quantitative", "axis": null},
    "y": {"field": "y", "type": "quantitative", "axis": null},
    "shape": {"field": "set", "type": "nominal", "scale": {"domain": ["BESIII 2018","BESIII 2015","BESIII(unTagged)","BaBar(Tagged)","BaBar(unTagged)","CMD3","BESII","FENICE","E760","E835","PS170","DM2"], "range": ["square","circle","M-1,-1L1,1M-1,1L1,-1","cross","cross","M0,-1L0.235,-0.324L0.951,-0.309L0.38,0.124L0.588,0.809L0,0.4L-0.588,0.809L-0.38,0.124L-0.951,-0.309L-0.235,-0.324Z","circle","M0,-1L0.235,-0.324L0.951,-0.309L0.38,0.124L0.588,0.809L0,0.4L-0.588,0.809L-0.38,0.124L-0.951,-0.309L-0.235,-0.324Z","triangle-up","square","cross","M0,0L0,1M0,0L-0.87,-0.5M0,0L0.87,-0.5"]},
      "legend": {"orient": "none", "legendX": 226, "legendY": 5, "title": null, "labelFontSize": 9, "labelFont": "Liberation Sans", "labelColor": "#222222", "symbolSize": 45, "rowPadding": -1.6, "labelOffset": 6, "padding": 0, "symbolStrokeWidth": 1.5}},
    "fill": {"field": "set", "type": "nominal", "scale": {"domain": ["BESIII 2018","BESIII 2015","BESIII(unTagged)","BaBar(Tagged)","BaBar(unTagged)","CMD3","BESII","FENICE","E760","E835","PS170","DM2"], "range": ["#ff0000","#000000","#b08070","transparent","transparent","#ff22ff","transparent","transparent","transparent","transparent","#40c840","#8c6450"]},
      "legend": {"orient": "none", "legendX": 226, "legendY": 5, "title": null, "labelFontSize": 9, "labelFont": "Liberation Sans", "labelColor": "#222222", "symbolSize": 45, "rowPadding": -1.6, "labelOffset": 6, "padding": 0, "symbolStrokeWidth": 1.5}},
    "stroke": {"field": "set", "type": "nominal", "scale": {"domain": ["BESIII 2018","BESIII 2015","BESIII(unTagged)","BaBar(Tagged)","BaBar(unTagged)","CMD3","BESII","FENICE","E760","E835","PS170","DM2"], "range": ["#ff0000","#000000","#b08070","#1515ff","#6e6ea8","#ff22ff","#5a5ae0","#33ee33","#000000","#d06060","#40c840","#8c6450"]},
      "legend": {"orient": "none", "legendX": 226, "legendY": 5, "title": null, "labelFontSize": 9, "labelFont": "Liberation Sans", "labelColor": "#222222", "symbolSize": 45, "rowPadding": -1.6, "labelOffset": 6, "padding": 0, "symbolStrokeWidth": 1.5}},
    "size": {"field": "set", "type": "nominal", "scale": {"domain": ["BESIII 2018","BESIII 2015","BESIII(unTagged)","BaBar(Tagged)","BaBar(unTagged)","CMD3","BESII","FENICE","E760","E835","PS170","DM2"], "range": [64,36,30,60,60,30,50,50,40,45,30,40]}, "legend": null}
   }},
  {"data": {"values": [{}]}, "mark": {"type": "text", "fontSize": 16, "font": "DejaVu Sans Condensed", "color": "#c4c4c4"}, "encoding": {"x": {"datum": 6.75, "axis": null}, "y": {"datum": 0.605, "axis": null}, "text": {"value": "BESIII preliminary"}}},
  {"data": {"values": [{}]}, "mark": {"type": "text", "fontSize": 19, "color": "#000000"}, "encoding": {"x": {"datum": 4.05, "axis": null}, "y": {"datum": 0.017, "axis": null}, "text": {"value": "(b)"}}}
 ]}
], "spacing": 81, "bounds": "flush",
"resolve": {"scale": {"stroke": "independent", "fill": "independent", "shape": "independent", "size": "independent", "x": "independent", "y": "independent"}, "legend": {"stroke": "independent", "fill": "independent", "shape": "independent"}}},
{"hconcat": [
{"width": 303, "height": 210,
 "resolve": {"axis": {"x": "independent", "y": "independent"}},
 "layer": [
  {"data": {"name": "c"}, "transform": [{"filter": "isValid(datum.lo)"}], "mark": {"type": "rule", "strokeWidth": 1.8, "clip": true},
   "encoding": {
    "x": {"field": "x", "type": "quantitative", "scale": {"domain": [1.865, 3.101], "nice": false, "zero": false},
      "axis": {"orient": "bottom", "values": [2,2.5,3], "tickSize": -9, "labelPadding": 6, "title": "√s[GeV]", "titleAnchor": "end", "titleFontSize": 20, "titlePadding": 12}},
    "y": {"field": "lo", "type": "quantitative", "scale": {"domain": [0, 2.296], "nice": false, "zero": false},
      "axis": {"orient": "left", "values": [0,0.5,1,1.5,2], "tickSize": -9, "labelPadding": 11.5, "title": "|Gₑ/Gₘ|(s)", "titleAnchor": "end", "titleFontSize": 20, "titlePadding": 20}},
    "y2": {"field": "hi"},
    "stroke": {"field": "set", "type": "nominal", "scale": {"domain": ["JLab(Polar SL)","BESIII 2018","BaBar(Tagged)","SLAC(Rosen SL","BESIII 2015","CMD3","HMS(Rosen SL)","BESIII(unTagged","PS170","JLab(Rosen SL)"], "range": ["#55cc55","#ff0000","#1515ff","#000000","#000000","#ff22ff","#a06a6a","#bc9c84","#22e0e0","#6060e0"]},
      "legend": {"orient": "none", "legendX": 77, "legendY": 5, "columns": 3, "direction": "horizontal", "gridAlign": "all", "columnPadding": 0, "title": null, "labelFontSize": 8.3, "labelFont": "Liberation Sans", "labelColor": "#222222", "symbolSize": 35, "rowPadding": -3.5, "labelOffset": 3, "padding": 0, "symbolStrokeWidth": 1.3}}
   }},
  {"data": {"name": "c"}, "transform": [{"filter": "isValid(datum.xl)"}], "mark": {"type": "rule", "strokeWidth": 1.8, "clip": true},
   "encoding": {
    "x": {"field": "xl", "type": "quantitative", "axis": {"orient": "bottom", "values": [1.9,1.95,2.05,2.1,2.15,2.2,2.25,2.3,2.35,2.4,2.45,2.55,2.6,2.65,2.7,2.75,2.8,2.85,2.9,2.95,3.05,3.1], "tickSize": -4.5, "labels": false, "title": null}},
    "x2": {"field": "xh"},
    "y": {"field": "y", "type": "quantitative", "axis": {"orient": "left", "values": [0.1,0.2,0.3,0.4,0.6,0.7,0.8,0.9,1.1,1.2,1.3,1.4,1.6,1.7,1.8,1.9,2.1,2.2], "tickSize": -4.5, "labels": false, "title": null}},
    "stroke": {"field": "set", "type": "nominal", "scale": {"domain": ["JLab(Polar SL)","BESIII 2018","BaBar(Tagged)","SLAC(Rosen SL","BESIII 2015","CMD3","HMS(Rosen SL)","BESIII(unTagged","PS170","JLab(Rosen SL)"], "range": ["#55cc55","#ff0000","#1515ff","#000000","#000000","#ff22ff","#a06a6a","#bc9c84","#22e0e0","#6060e0"]},
      "legend": {"orient": "none", "legendX": 77, "legendY": 5, "columns": 3, "direction": "horizontal", "gridAlign": "all", "columnPadding": 0, "title": null, "labelFontSize": 8.3, "labelFont": "Liberation Sans", "labelColor": "#222222", "symbolSize": 35, "rowPadding": -3.5, "labelOffset": 3, "padding": 0, "symbolStrokeWidth": 1.3}}
   }},
  {"data": {"name": "c"}, "mark": {"type": "point", "filled": true, "opacity": 1, "strokeWidth": 1.5, "clip": true},
   "encoding": {
    "x": {"field": "x", "type": "quantitative", "axis": null},
    "y": {"field": "y", "type": "quantitative", "axis": null},
    "shape": {"field": "set", "type": "nominal", "scale": {"domain": ["JLab(Polar SL)","BESIII 2018","BaBar(Tagged)","SLAC(Rosen SL","BESIII 2015","CMD3","HMS(Rosen SL)","BESIII(unTagged","PS170","JLab(Rosen SL)"], "range": ["M-1,-1L1,1M-1,1L1,-1M0,-1L0,1M-1,0L1,0","square","cross","diamond","circle","M0,-1L0.235,-0.324L0.951,-0.309L0.38,0.124L0.588,0.809L0,0.4L-0.588,0.809L-0.38,0.124L-0.951,-0.309L-0.235,-0.324Z","triangle-up","M-1,-1L1,1M-1,1L1,-1","circle","M-1,-1L1,1M-1,1L1,-1M0,-1L0,1"]},
      "legend": {"orient": "none", "legendX": 77, "legendY": 5, "columns": 3, "direction": "horizontal", "gridAlign": "all", "columnPadding": 0, "title": null, "labelFontSize": 8.3, "labelFont": "Liberation Sans", "labelColor": "#222222", "symbolSize": 35, "rowPadding": -3.5, "labelOffset": 3, "padding": 0, "symbolStrokeWidth": 1.3}},
    "fill": {"field": "set", "type": "nominal", "scale": {"domain": ["JLab(Polar SL)","BESIII 2018","BaBar(Tagged)","SLAC(Rosen SL","BESIII 2015","CMD3","HMS(Rosen SL)","BESIII(unTagged","PS170","JLab(Rosen SL)"], "range": ["#55cc55","#ff0000","transparent","white","#000000","#ff22ff","transparent","#bc9c84","white","#6060e0"]},
      "legend": {"orient": "none", "legendX": 77, "legendY": 5, "columns": 3, "direction": "horizontal", "gridAlign": "all", "columnPadding": 0, "title": null, "labelFontSize": 8.3, "labelFont": "Liberation Sans", "labelColor": "#222222", "symbolSize": 35, "rowPadding": -3.5, "labelOffset": 3, "padding": 0, "symbolStrokeWidth": 1.3}},
    "stroke": {"field": "set", "type": "nominal", "scale": {"domain": ["JLab(Polar SL)","BESIII 2018","BaBar(Tagged)","SLAC(Rosen SL","BESIII 2015","CMD3","HMS(Rosen SL)","BESIII(unTagged","PS170","JLab(Rosen SL)"], "range": ["#55cc55","#ff0000","#1515ff","#000000","#000000","#ff22ff","#a06a6a","#bc9c84","#22e0e0","#6060e0"]},
      "legend": {"orient": "none", "legendX": 77, "legendY": 5, "columns": 3, "direction": "horizontal", "gridAlign": "all", "columnPadding": 0, "title": null, "labelFontSize": 8.3, "labelFont": "Liberation Sans", "labelColor": "#222222", "symbolSize": 35, "rowPadding": -3.5, "labelOffset": 3, "padding": 0, "symbolStrokeWidth": 1.3}},
    "size": {"field": "set", "type": "nominal", "scale": {"domain": ["JLab(Polar SL)","BESIII 2018","BaBar(Tagged)","SLAC(Rosen SL","BESIII 2015","CMD3","HMS(Rosen SL)","BESIII(unTagged","PS170","JLab(Rosen SL)"], "range": [30,49,60,45,36,30,50,30,60,30]}, "legend": null}
   }},
  {"data": {"values": [{}]}, "mark": {"type": "text", "fontSize": 16, "font": "DejaVu Sans Condensed", "color": "#c4c4c4"}, "encoding": {"x": {"datum": 2.383, "axis": null}, "y": {"datum": 0.15, "axis": null}, "text": {"value": "BESIII preliminary"}}},
  {"data": {"values": [{}]}, "mark": {"type": "text", "fontSize": 19, "color": "#000000"}, "encoding": {"x": {"datum": 1.943, "axis": null}, "y": {"datum": 0.19, "axis": null}, "text": {"value": "(c)"}}}
 ]},
{"width": 298, "height": 207,
 "resolve": {"axis": {"x": "independent", "y": "independent"}},
 "layer": [
  {"data": {"name": "d"}, "transform": [{"filter": "isValid(datum.lo)"}], "mark": {"type": "rule", "strokeWidth": 1.8, "clip": true},
   "encoding": {
    "x": {"field": "x", "type": "quantitative", "scale": {"domain": [1.863, 3.154], "nice": false, "zero": false},
      "axis": {"orient": "bottom", "values": [2,2.5,3], "tickSize": -9, "labelPadding": 13, "title": "√s[GeV]", "titleAnchor": "end", "titleFontSize": 20, "titlePadding": 6}},
    "y": {"field": "lo", "type": "quantitative", "scale": {"domain": [0, 0.3043], "nice": false, "zero": false},
      "axis": {"orient": "left", "values": [0,0.1,0.2,0.3], "tickSize": -9, "labelPadding": 11, "title": "|Gₘ|(s)", "titleAnchor": "end", "titleFontSize": 20, "titlePadding": 20}},
    "y2": {"field": "hi"},
    "stroke": {"field": "set", "type": "nominal", "scale": {"domain": ["BESIII 2018","BESIII 2015","PS170"], "range": ["#ff0000","#000000","#22e0e0"]},
      "legend": {"orient": "none", "legendX": 209, "legendY": 10, "title": null, "labelFontSize": 8.3, "labelFont": "Liberation Sans", "labelColor": "#222222", "symbolSize": 35, "rowPadding": -1.7, "labelOffset": 8, "padding": 0, "symbolStrokeWidth": 1.3}}
   }},
  {"data": {"name": "d"}, "transform": [{"filter": "isValid(datum.xl)"}], "mark": {"type": "rule", "strokeWidth": 1.8, "clip": true},
   "encoding": {
    "x": {"field": "xl", "type": "quantitative", "axis": {"orient": "bottom", "values": [1.9,1.95,2.05,2.1,2.15,2.2,2.25,2.3,2.35,2.4,2.45,2.55,2.6,2.65,2.7,2.75,2.8,2.85,2.9,2.95,3.05,3.1,3.15], "tickSize": -4.5, "labels": false, "title": null}},
    "x2": {"field": "xh"},
    "y": {"field": "y", "type": "quantitative", "axis": {"orient": "left", "values": [0.02,0.04,0.06,0.08,0.12,0.14,0.16,0.18,0.22,0.24,0.26,0.28], "tickSize": -4.5, "labels": false, "title": null}},
    "stroke": {"field": "set", "type": "nominal", "scale": {"domain": ["BESIII 2018","BESIII 2015","PS170"], "range": ["#ff0000","#000000","#22e0e0"]},
      "legend": {"orient": "none", "legendX": 209, "legendY": 10, "title": null, "labelFontSize": 8.3, "labelFont": "Liberation Sans", "labelColor": "#222222", "symbolSize": 35, "rowPadding": -1.7, "labelOffset": 8, "padding": 0, "symbolStrokeWidth": 1.3}}
   }},
  {"data": {"name": "d"}, "mark": {"type": "point", "filled": true, "opacity": 1, "strokeWidth": 1.5, "clip": true},
   "encoding": {
    "x": {"field": "x", "type": "quantitative", "axis": null},
    "y": {"field": "y", "type": "quantitative", "axis": null},
    "shape": {"field": "set", "type": "nominal", "scale": {"domain": ["BESIII 2018","BESIII 2015","PS170"], "range": ["square","circle","circle"]},
      "legend": {"orient": "none", "legendX": 209, "legendY": 10, "title": null, "labelFontSize": 8.3, "labelFont": "Liberation Sans", "labelColor": "#222222", "symbolSize": 35, "rowPadding": -1.7, "labelOffset": 8, "padding": 0, "symbolStrokeWidth": 1.3}},
    "fill": {"field": "set", "type": "nominal", "scale": {"domain": ["BESIII 2018","BESIII 2015","PS170"], "range": ["#ff0000","#000000","white"]},
      "legend": {"orient": "none", "legendX": 209, "legendY": 10, "title": null, "labelFontSize": 8.3, "labelFont": "Liberation Sans", "labelColor": "#222222", "symbolSize": 35, "rowPadding": -1.7, "labelOffset": 8, "padding": 0, "symbolStrokeWidth": 1.3}},
    "stroke": {"field": "set", "type": "nominal", "scale": {"domain": ["BESIII 2018","BESIII 2015","PS170"], "range": ["#ff0000","#000000","#22e0e0"]},
      "legend": {"orient": "none", "legendX": 209, "legendY": 10, "title": null, "labelFontSize": 8.3, "labelFont": "Liberation Sans", "labelColor": "#222222", "symbolSize": 35, "rowPadding": -1.7, "labelOffset": 8, "padding": 0, "symbolStrokeWidth": 1.3}},
    "size": {"field": "set", "type": "nominal", "scale": {"domain": ["BESIII 2018","BESIII 2015","PS170"], "range": [40,25,50]}, "legend": null}
   }},
  {"data": {"values": [{}]}, "mark": {"type": "text", "fontSize": 16, "font": "DejaVu Sans Condensed", "color": "#c4c4c4"}, "encoding": {"x": {"datum": 2.73, "axis": null}, "y": {"datum": 0.169, "axis": null}, "text": {"value": "BESIII preliminary"}}},
  {"data": {"values": [{}]}, "mark": {"type": "text", "fontSize": 19, "color": "#000000"}, "encoding": {"x": {"datum": 1.975, "axis": null}, "y": {"datum": 0.0315, "axis": null}, "text": {"value": "(d)"}}}
 ]}
], "spacing": 110, "bounds": "flush",
"resolve": {"scale": {"stroke": "independent", "fill": "independent", "shape": "independent", "size": "independent", "x": "independent", "y": "independent"}, "legend": {"stroke": "independent", "fill": "independent", "shape": "independent"}}}
]
}
